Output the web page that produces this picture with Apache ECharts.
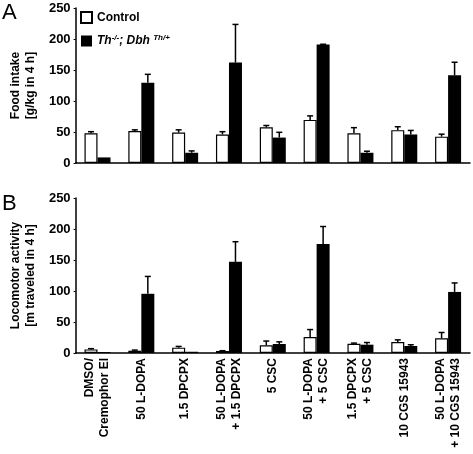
<!DOCTYPE html>
<html><head><meta charset="utf-8">
<script src="https://cdn.jsdelivr.net/npm/echarts@6/dist/echarts.min.js"></script>
<style>html,body{margin:0;padding:0;background:#fff}#c{width:473px;height:454px}</style>
</head><body><div id="c"></div>
<script>
var categories = ['DMSO/\nCremophor El','50 L-DOPA','1.5 DPCPX','50 L-DOPA\n+ 1.5 DPCPX','5 CSC','50 L-DOPA\n+ 5 CSC','1.5 DPCPX\n+ 5 CSC','10 CGS 15943','50 L-DOPA\n+ 10 CGS 15943'];
var yTicks = [0, 50, 100, 150, 200, 250];
var foodControl    = [48, 51.5, 49, 46, 57.5, 69.5, 48, 53, 42.5];
var foodControlErr = [2.5, 2, 4.5, 4.5, 3, 6.5, 9, 5.5, 4];
var foodTh         = [9, 129.5, 16.5, 162, 41, 191, 16.5, 46, 141.5];
var foodThErr      = [0, 13.5, 3, 61.5, 8.5, 0.5, 2.5, 6.5, 21];
var locoControl    = [5.8, 3.7, 8.6, 3.2, 12.3, 25.8, 15, 17.7, 23.6];
var locoControlErr = [1.2, 1, 2, 0.5, 7, 12, 1, 3.5, 9.5];
var locoTh         = [1.5, 95.5, 2, 147, 14.5, 176, 13.4, 11.3, 98.5];
var locoThErr      = [0, 28, 0, 32.5, 3.5, 28, 3.5, 2, 14.5];

var FONT = 'Liberation Sans, Arial, sans-serif';
var BW = 13;
function errSeries(vals, errs, axisIdx, offset) {
  var data = vals.map(function (v, i) { return [i, v, v + errs[i]]; });
  return {
    type: 'custom', xAxisIndex: axisIdx, yAxisIndex: axisIdx, silent: true, z: 1,
    data: data,
    renderItem: function (params, api) {
      var i = api.value(0);
      var b = api.coord([i, api.value(1)]);
      var t = api.coord([i, api.value(2)]);
      var x = b[0] + offset;
      if (api.value(2) - api.value(1) < 0.01) return null;
      return { type: 'group', children: [
        { type: 'line', shape: { x1: x, y1: b[1], x2: x, y2: t[1] }, style: { stroke: '#000', lineWidth: 1.5 } },
        { type: 'line', shape: { x1: x - 3, y1: t[1], x2: x + 3, y2: t[1] }, style: { stroke: '#000', lineWidth: 1.5 } }
      ]};
    }
  };
}
function xAx(gi, showLabels) {
  return {
    type: 'category', gridIndex: gi, data: categories,
    axisLine: { lineStyle: { color: '#000', width: 1.5 } },
    axisTick: { show: false },
    axisLabel: showLabels ? { show: true, rotate: 90, interval: 0, margin: 5, fontFamily: FONT, fontWeight: 'bold', fontSize: 12, color: '#000', lineHeight: 15, align: 'right' } : { show: false }
  };
}
function yAx(gi, name) {
  return {
    type: 'value', gridIndex: gi, min: 0, max: 250, interval: 50,
    name: name, nameLocation: 'middle', nameGap: 34, nameRotate: 90,
    nameTextStyle: { fontFamily: FONT, fontWeight: 'bold', fontSize: 12, color: '#000', lineHeight: 15 },
    axisLine: { show: true, lineStyle: { color: '#000', width: 1.5 } },
    axisTick: { show: true, length: 2, lineStyle: { color: '#000' } },
    splitLine: { show: false },
    axisLabel: { margin: 5, fontFamily: FONT, fontWeight: 'bold', fontSize: 13, color: '#000',
      formatter: function (v) { return yTicks.indexOf(v) >= 0 ? String(v) : ''; } }
  };
}
var ctrlStyle = { color: '#fff', borderColor: '#000', borderWidth: 1.2 };
var thStyle = { color: '#000', borderColor: '#000', borderWidth: 0 };
var chart = echarts.init(document.getElementById('c'), null, { renderer: 'canvas' });
chart.setOption({
  animation: false,
  backgroundColor: '#fff',
  grid: [
    { left: 68, width: 402, top: 8, height: 155 },
    { left: 68, width: 402, top: 198, height: 155 }
  ],
  xAxis: [xAx(0, false), xAx(1, true)],
  yAxis: [yAx(0, 'Food intake\n[g/kg in 4 h]'), yAx(1, 'Locomotor activity\n[m traveled in 4 h]')],
  legend: {
    left: 80, top: 11, padding: 0, orient: 'vertical', itemWidth: 11, itemHeight: 11, itemGap: 10,
    icon: 'rect',
    data: ['Control', 'Th'],
    textStyle: { fontFamily: FONT, fontWeight: 'bold', fontSize: 12, color: '#000',
      rich: {
        i: { fontFamily: FONT, fontWeight: 'bold', fontStyle: 'italic', fontSize: 12, color: '#000' },
        s: { fontFamily: FONT, fontWeight: 'bold', fontStyle: 'italic', fontSize: 8, color: '#000', verticalAlign: 'top', padding: [0, 0, 6, 0] }
      } },
    formatter: function (n) { return n === 'Control' ? 'Control' : '{i|Th}{s|-/-}{i|; Dbh }{s|Th/+}'; }
  },
  graphic: [
    { type: 'text', left: 2, top: 2, style: { text: 'A', font: '22px ' + FONT, fill: '#000' } },
    { type: 'text', left: 2, top: 193, style: { text: 'B', font: '22px ' + FONT, fill: '#000' } }
  ],
  series: [
    errSeries(foodControl, foodControlErr, 0, -BW / 2),
    errSeries(foodTh, foodThErr, 0, BW / 2),
    errSeries(locoControl, locoControlErr, 1, -BW / 2),
    errSeries(locoTh, locoThErr, 1, BW / 2),
    { name: 'Control', type: 'bar', xAxisIndex: 0, yAxisIndex: 0, data: foodControl, barWidth: BW, barGap: '0%', itemStyle: ctrlStyle, z: 2 },
    { name: 'Th', type: 'bar', xAxisIndex: 0, yAxisIndex: 0, data: foodTh, barWidth: BW, barGap: '0%', itemStyle: thStyle, z: 2 },
    { name: 'Control', type: 'bar', xAxisIndex: 1, yAxisIndex: 1, data: locoControl, barWidth: BW, barGap: '0%', itemStyle: ctrlStyle, z: 2 },
    { name: 'Th', type: 'bar', xAxisIndex: 1, yAxisIndex: 1, data: locoTh, barWidth: BW, barGap: '0%', itemStyle: thStyle, z: 2 }
  ]
});
</script></body></html>
